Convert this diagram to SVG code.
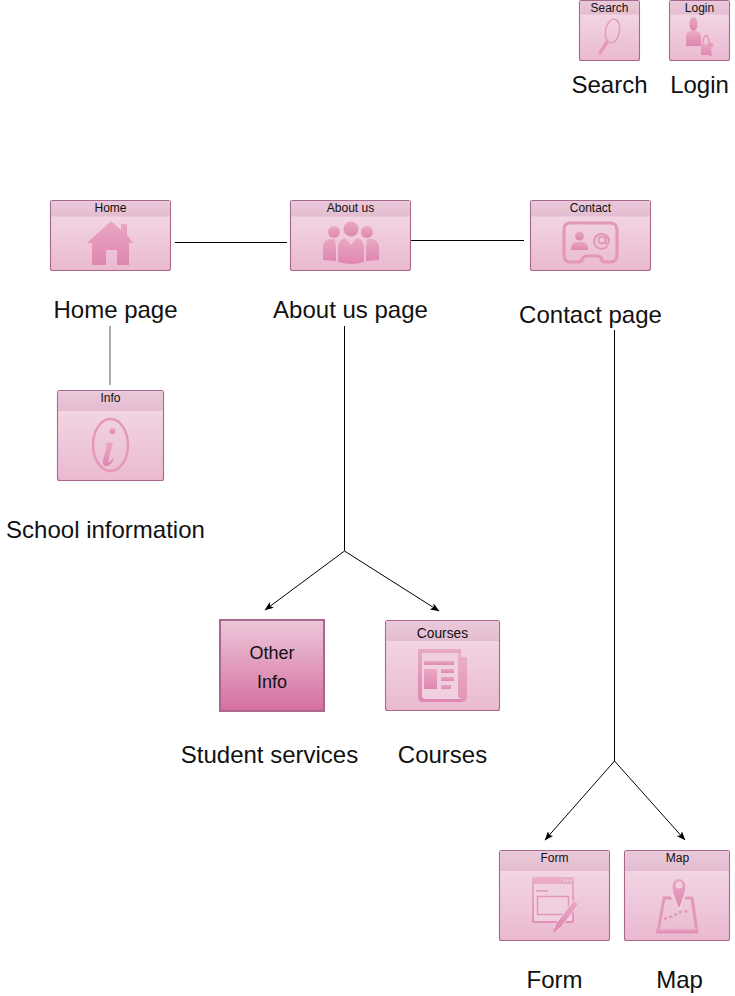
<svg xmlns="http://www.w3.org/2000/svg" width="735" height="996" viewBox="0 0 735 996">
<style>
text{font-family:"Liberation Sans",Arial,sans-serif;fill:#111;text-anchor:middle}
.cap{font-size:24px}
.hd{font-size:12px}
.box{fill:url(#body);stroke:#a8688e;stroke-width:1.1}
.bar{fill:url(#bar)}
.ic{fill:url(#icon)}
.ol{fill:none;stroke:#e398b8}
.cut{fill:#f0d0e0}
.line{fill:none;stroke:#000;stroke-width:1}
</style>
<defs>
<linearGradient id="body" x1="0" y1="0" x2="0" y2="1"><stop offset="0" stop-color="#f4dde9"/><stop offset="1" stop-color="#eab9d0"/></linearGradient>
<linearGradient id="bar" x1="0" y1="0" x2="0" y2="1"><stop offset="0" stop-color="#e9c9da"/><stop offset="1" stop-color="#e4bcd0"/></linearGradient>
<linearGradient id="icon" x1="0" y1="0" x2="0" y2="1"><stop offset="0" stop-color="#e9a8c4"/><stop offset="1" stop-color="#df87ad"/></linearGradient>
<linearGradient id="other" x1="0" y1="0" x2="0" y2="1"><stop offset="0" stop-color="#ecc8da"/><stop offset="1" stop-color="#d56f9f"/></linearGradient>
<marker id="arr" markerWidth="10" markerHeight="8" refX="8.500" refY="3.500" orient="auto" markerUnits="userSpaceOnUse"><path d="M0 0L9 3.500L0 7L2 3.500Z" fill="#000"/></marker>
</defs>

<g id="connectors">
<path class="line" d="M175 242.500H287"/>
<path class="line" d="M411 240.500H524"/>
<path d="M110 326V385" fill="none" stroke="#555" stroke-width="1"/>
<path class="line" d="M344.500 326V551"/>
<path class="line" d="M344.500 551L265 610" marker-end="url(#arr)"/>
<path class="line" d="M344.500 551L439 611" marker-end="url(#arr)"/>
<path class="line" d="M614.500 330V761"/>
<path class="line" d="M614.500 761L545 840" marker-end="url(#arr)"/>
<path class="line" d="M614.500 761L685 840" marker-end="url(#arr)"/>
</g>

<g id="search">
<rect class="box" x="579.500" y="0.500" width="60" height="60" rx="2"/>
<rect class="bar" x="580" y="1" width="59" height="13.500"/>
<text class="hd" x="609.500" y="12">Search</text>
<ellipse class="ol" cx="612.500" cy="31" rx="7" ry="12" stroke-width="1.400" transform="rotate(10 612.500 31)"/>
<path d="M607 42L600 53" fill="none" stroke="#e398b8" stroke-width="3.500" stroke-linecap="round"/>
<text class="cap" x="609.500" y="93">Search</text>
</g>

<g id="login">
<rect class="box" x="669.500" y="0.500" width="60" height="60" rx="2"/>
<rect class="bar" x="670" y="1" width="59" height="13.500"/>
<text class="hd" x="699.500" y="12">Login</text>
<ellipse class="ic" cx="693.500" cy="24" rx="4" ry="7"/>
<path class="ic" d="M686 46V37Q686 32 691 31H696Q701 32 701 37V46Z"/>
<path class="ic" d="M701 44H711V55H701Z"/>
<path d="M703 44V40Q706 31 709 40V44" fill="none" stroke="#e398b8" stroke-width="1.500"/>
<circle class="ic" cx="710.500" cy="45" r="2.500"/>
<path class="ic" d="M709.500 46H711.500V56H709.500Z"/>
<text class="cap" x="699.500" y="93">Login</text>
</g>

<g id="home">
<rect class="box" x="50.500" y="200.500" width="120" height="70" rx="2"/>
<rect class="bar" x="51" y="201" width="119" height="15.500"/>
<text class="hd" x="110.500" y="212">Home</text>
<path class="ic" d="M111 221L121 230V224H127V235L133 243H129V265H117V250H106V265H92V243H87Z"/>
<text class="cap" x="115.500" y="318">Home page</text>
</g>

<g id="about">
<rect class="box" x="290.500" y="200.500" width="120" height="70" rx="2"/>
<rect class="bar" x="291" y="201" width="119" height="15.500"/>
<text class="hd" x="350.500" y="212">About us</text>
<circle class="ic" cx="351" cy="229" r="7.500"/>
<circle class="ic" cx="334" cy="232" r="6"/>
<circle class="ic" cx="367" cy="232" r="6"/>
<path class="ic" d="M338 262V246Q339 240 345 238L351 245L357 238Q363 240 364 246V262Q351 266 338 262Z"/>
<path class="ic" d="M323 260V246Q324 240 330 239H334Q336 240 335 241Q336 245 336 248V261Z"/>
<path class="ic" d="M379 260V246Q378 240 372 239H368Q366 240 367 241Q366 245 366 248V261Z"/>
<text class="cap" x="350.500" y="318">About us page</text>
</g>

<g id="contact">
<rect class="box" x="530.500" y="200.500" width="120" height="70" rx="2"/>
<rect class="bar" x="531" y="201" width="119" height="15.500"/>
<text class="hd" x="590.500" y="212">Contact</text>
<path class="ol" stroke-width="3.200" d="M570 223H610Q617 223 617 230V255Q617 262 610 262H605Q602 262 601 258Q600 256 597 256H587Q584 256 583 258Q582 262 578 262H570Q564 262 564 255V230Q564 223 570 223Z"/>
<circle class="ic" cx="579.500" cy="236" r="4.500"/>
<path class="ic" d="M571 250V247Q572 243 576 242H583Q587 243 588 247V250Z"/>
<path class="ol" stroke-width="2" d="M607.500 246A7.500 7.500 0 1 1 609 240V242Q608 245 606 243.500V236M605.500 240A3.500 3.500 0 1 1 598.500 240A3.500 3.500 0 1 1 605.500 240"/>
<text class="cap" x="590.500" y="323">Contact page</text>
</g>

<g id="info">
<rect class="box" x="57.500" y="390.500" width="106" height="90" rx="2"/>
<rect class="bar" x="58" y="391" width="105" height="20"/>
<text class="hd" x="110.500" y="402">Info</text>
<ellipse class="ol" cx="110.500" cy="445" rx="17.500" ry="26" stroke-width="2.500"/>
<circle class="ic" cx="112.500" cy="431" r="3"/>
<path class="ic" d="M106 443L113 442L108 462Q110 463 113 458L114 459Q110 467 105 466Q102 465 103 460L107 446L105 445Z"/>
<text class="cap" x="105.500" y="538">School information</text>
</g>

<g id="other">
<rect x="220" y="620" width="104" height="91" fill="url(#other)" stroke="#a8688e" stroke-width="2"/>
<text x="272" y="659" font-size="18">Other</text>
<text x="272" y="688" font-size="18">Info</text>
<text class="cap" x="269.500" y="763">Student services</text>
</g>

<g id="courses">
<rect class="box" x="385.500" y="620.500" width="114" height="90" rx="2"/>
<rect class="bar" x="386" y="621" width="113" height="20"/>
<text x="442.500" y="638" font-size="13.800px">Courses</text>
<path class="ic" d="M455 657H467V697Q467 702 461 702H424Q418 702 418 696V649H461V657Z" opacity="0.750"/>
<path class="cut" d="M422 653H458V695Q458 697 461 699H425Q422 699 422 696Z"/>
<path class="ic" d="M418 649H461V653H422V696Q422 699 425 699H461V702H424Q418 702 418 696Z"/>
<rect class="ic" x="424" y="661" width="30" height="4"/>
<rect class="ic" x="424" y="669" width="13" height="20"/>
<rect class="ic" x="441" y="669" width="13" height="4"/>
<rect class="ic" x="441" y="677" width="13" height="4"/>
<rect class="ic" x="441" y="685" width="10" height="4"/>
<text class="cap" x="442.500" y="763">Courses</text>
</g>

<g id="form">
<rect class="box" x="499.500" y="850.500" width="110" height="90" rx="2"/>
<rect class="bar" x="500" y="851" width="109" height="20"/>
<text class="hd" x="554.500" y="862">Form</text>
<rect class="ic" x="532" y="877" width="42" height="46" rx="2" opacity="0.850"/>
<rect class="cut" x="534" y="884" width="38" height="37"/>
<circle cx="564" cy="880.500" r="1" fill="#f0d0e0"/><circle cx="567.500" cy="880.500" r="1" fill="#f0d0e0"/><circle cx="571" cy="880.500" r="1" fill="#f0d0e0"/>
<rect class="ic" x="536" y="890" width="12" height="1.500"/>
<rect x="537.500" y="896.500" width="31" height="18" fill="none" stroke="#e398b8" stroke-width="1.500"/>
<path d="M576 902L556 929" stroke="#f0d0e0" stroke-width="7" fill="none"/>
<path class="ic" d="M574 901L578 904L561 927L553 933L556 924Z"/>
<text class="cap" x="554.500" y="988">Form</text>
</g>

<g id="map">
<rect class="box" x="624.500" y="850.500" width="105" height="90" rx="2"/>
<rect class="bar" x="625" y="851" width="104" height="20"/>
<text class="hd" x="677.500" y="862">Map</text>
<path class="ol" stroke-width="3" d="M664 898H692L697 932H658Z"/>
<path class="ic" d="M656 929H698L697 933H656Z"/>
<path class="cut" d="M670 895H686L680 912Z"/>
<path class="ic" d="M679 879A6.500 6.500 0 0 1 685.500 885.500Q685.500 893 679 908Q672.500 893 672.500 885.500A6.500 6.500 0 0 1 679 879Z"/>
<circle class="cut" cx="679" cy="885" r="3.500"/>
<path d="M664 919L672 916.500L680 912L690 911" stroke="#e398b8" stroke-width="2.500" stroke-dasharray="3 2.500" fill="none"/>
<text class="cap" x="679.500" y="988">Map</text>
</g>
</svg>
